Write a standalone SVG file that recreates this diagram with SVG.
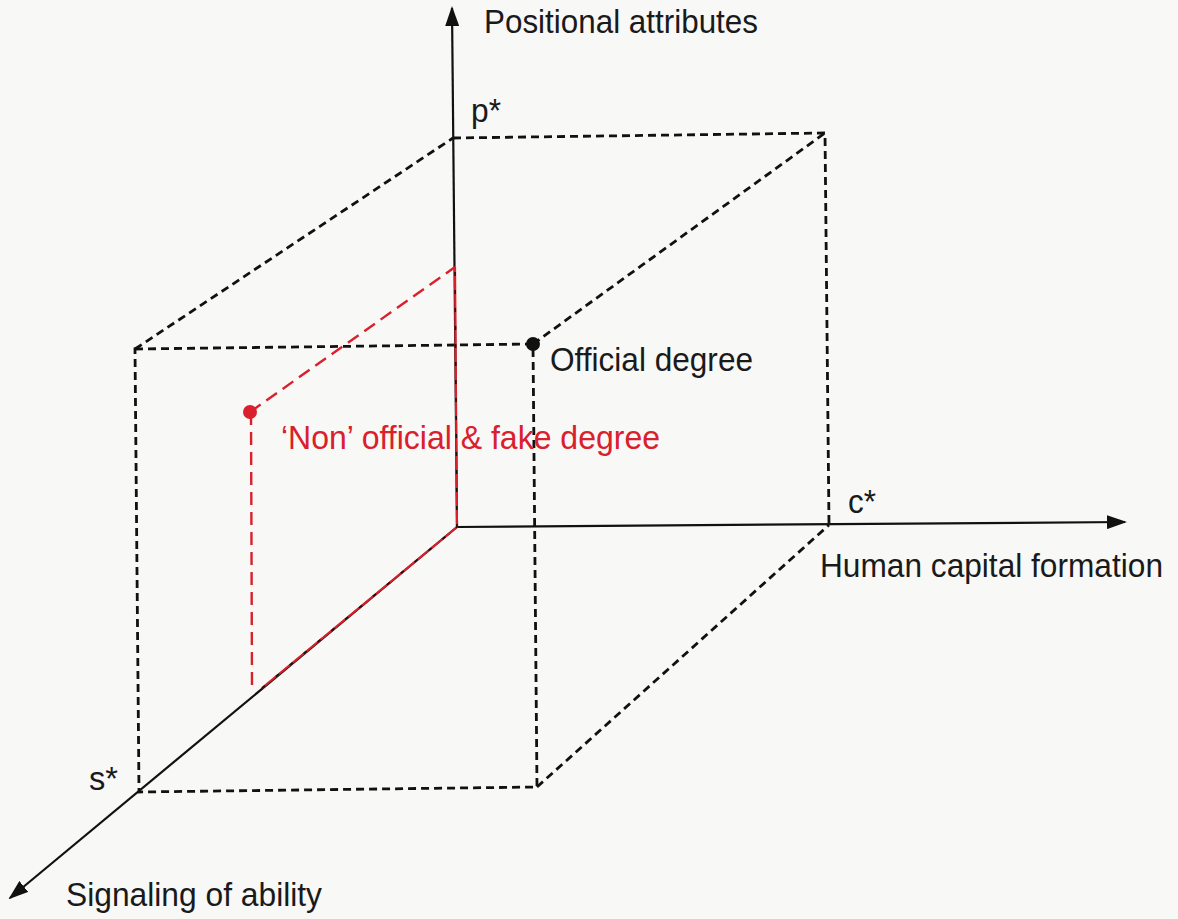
<svg xmlns="http://www.w3.org/2000/svg" width="1178" height="919" viewBox="0 0 1178 919">
<style>
.bg{fill:#f8f8f6}
.axis{stroke:#111;stroke-width:2.2;fill:none}
.dash{stroke:#111;stroke-width:2.8;fill:none;stroke-dasharray:8 5}
.rdash{stroke:#d9202c;stroke-width:2.4;fill:none;stroke-dasharray:13 7}
.rsolid{stroke:#d9202c;stroke-width:2.2;fill:none}
.ovl{stroke:#111;stroke-width:1.6;fill:none;stroke-dasharray:4 14}
.lbl{font-family:"Liberation Sans",Arial,sans-serif;font-size:33px;fill:#1a1a1a}
.red{fill:#d9202c}
</style>
<defs>
<marker id="arr" viewBox="0 0 20 14" refX="18" refY="7" markerWidth="20" markerHeight="14" markerUnits="userSpaceOnUse" orient="auto">
<path d="M0,0 L20,7 L0,14 Z" fill="#111"/>
</marker>
</defs>
<rect class="bg" x="0" y="0" width="1178" height="919"/>
<g id="connectors">
<path class="dash" d="M453,138 L825,133 L829,525"/>
<path class="dash" d="M135,349 L533,344 L537,787 L139,792 Z"/>
<path class="dash" d="M135,349 L453,138"/>
<path class="dash" d="M533,344 L825,133"/>
<path class="dash" d="M537,787 L829,525"/>
<path class="axis" d="M457,527 L452,8" marker-end="url(#arr)"/>
<path class="axis" d="M457,527 L1125,522" marker-end="url(#arr)"/>
<path class="axis" d="M457,527 L10,898" marker-end="url(#arr)"/>
<path class="rdash" d="M250,412 L455,267"/>
<path class="rdash" d="M251,412 L252,686"/>
<path class="rsolid" d="M455,267 L457,527 L262,688"/>
<path class="ovl" d="M455,272 L457,527 L262,688"/>
</g>
<g id="axis-positional">
<text class="lbl" x="484" y="33" textLength="274" lengthAdjust="spacingAndGlyphs">Positional attributes</text>
</g>
<g id="axis-human">
<text class="lbl" x="820" y="577" textLength="343" lengthAdjust="spacingAndGlyphs">Human capital formation</text>
</g>
<g id="axis-signaling">
<text class="lbl" x="66" y="906" textLength="256" lengthAdjust="spacingAndGlyphs">Signaling of ability</text>
</g>
<g id="p-star"><text class="lbl" x="471" y="122" textLength="30" lengthAdjust="spacingAndGlyphs">p*</text></g>
<g id="c-star"><text class="lbl" x="848" y="513" textLength="28" lengthAdjust="spacingAndGlyphs">c*</text></g>
<g id="s-star"><text class="lbl" x="89" y="790" textLength="29" lengthAdjust="spacingAndGlyphs">s*</text></g>
<g id="official">
<circle cx="533" cy="344" r="7" fill="#111"/>
<text class="lbl" x="550" y="371" textLength="203" lengthAdjust="spacingAndGlyphs">Official degree</text>
</g>
<g id="nonofficial">
<circle cx="250" cy="412" r="7" fill="#d9202c"/>
<text class="lbl red" x="281" y="449" textLength="379" lengthAdjust="spacingAndGlyphs">‘Non’ official &amp; fake degree</text>
</g>
</svg>
